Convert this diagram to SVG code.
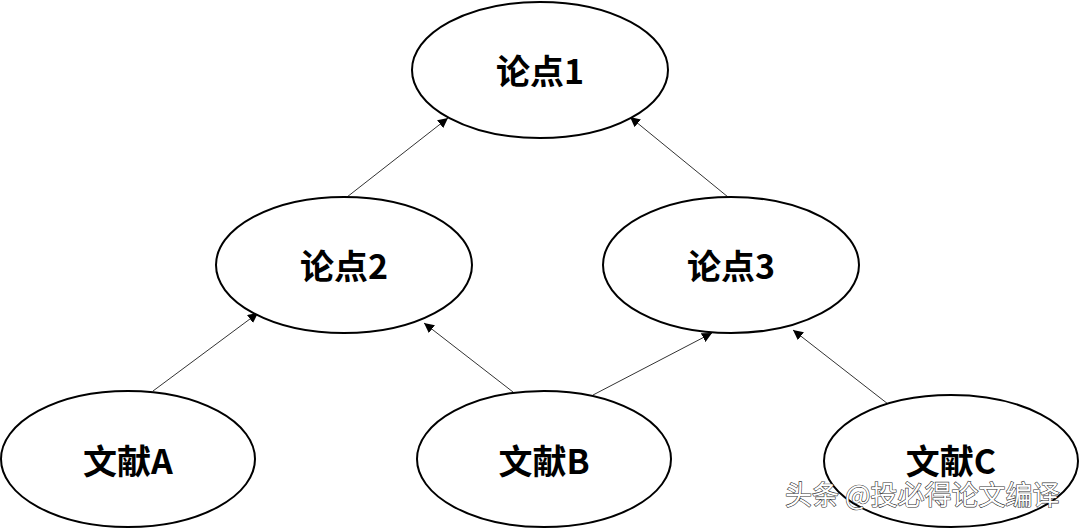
<svg xmlns="http://www.w3.org/2000/svg" width="1080" height="528" viewBox="0 0 1080 528">
<defs>
<marker id="arr" viewBox="0 0 10 10" refX="10" refY="5" markerWidth="10" markerHeight="10" markerUnits="userSpaceOnUse" orient="auto">
<path d="M0,0 L10,5 L0,10 Z" fill="#000"/>
</marker>
<style>
.node ellipse{fill:#fff;stroke:#000;stroke-width:2}
.node text{font-family:"Noto Sans CJK SC","Liberation Sans",sans-serif;font-weight:bold;font-size:34px;text-anchor:middle;fill:#000}
.edge{stroke:#333;stroke-width:1;fill:none;marker-end:url(#arr)}
.wm{font-family:"Noto Sans CJK SC","Liberation Sans",sans-serif;font-size:27px;fill:#fff;stroke:#333;stroke-width:1.2;paint-order:stroke}
</style>
</defs>
<rect width="1080" height="528" fill="#fff"/>
<g id="connectors">
<line class="edge" x1="347" y1="197" x2="448" y2="118"/>
<line class="edge" x1="728" y1="197" x2="630" y2="117"/>
<line class="edge" x1="153" y1="391" x2="258" y2="313"/>
<line class="edge" x1="513" y1="392" x2="424" y2="323"/>
<line class="edge" x1="593" y1="395" x2="712" y2="333"/>
<line class="edge" x1="888" y1="404" x2="793" y2="330"/>
</g>
<g id="n1" class="node"><ellipse cx="540" cy="70" rx="128" ry="68"/><text x="540" y="84">论点1</text></g>
<g id="n2" class="node"><ellipse cx="344" cy="265" rx="128" ry="68"/><text x="344" y="279">论点2</text></g>
<g id="n3" class="node"><ellipse cx="731" cy="265" rx="128" ry="68"/><text x="731" y="279">论点3</text></g>
<g id="nA" class="node"><ellipse cx="128" cy="459" rx="127" ry="68"/><text x="128" y="474">文献A</text></g>
<g id="nB" class="node"><ellipse cx="544" cy="459" rx="127" ry="68"/><text x="544" y="474">文献B</text></g>
<g id="nC" class="node"><ellipse cx="951" cy="461" rx="127" ry="66"/><text x="951" y="474">文献C</text></g>
<text class="wm" x="785" y="505">头条 @投必得论文编译</text>
</svg>
